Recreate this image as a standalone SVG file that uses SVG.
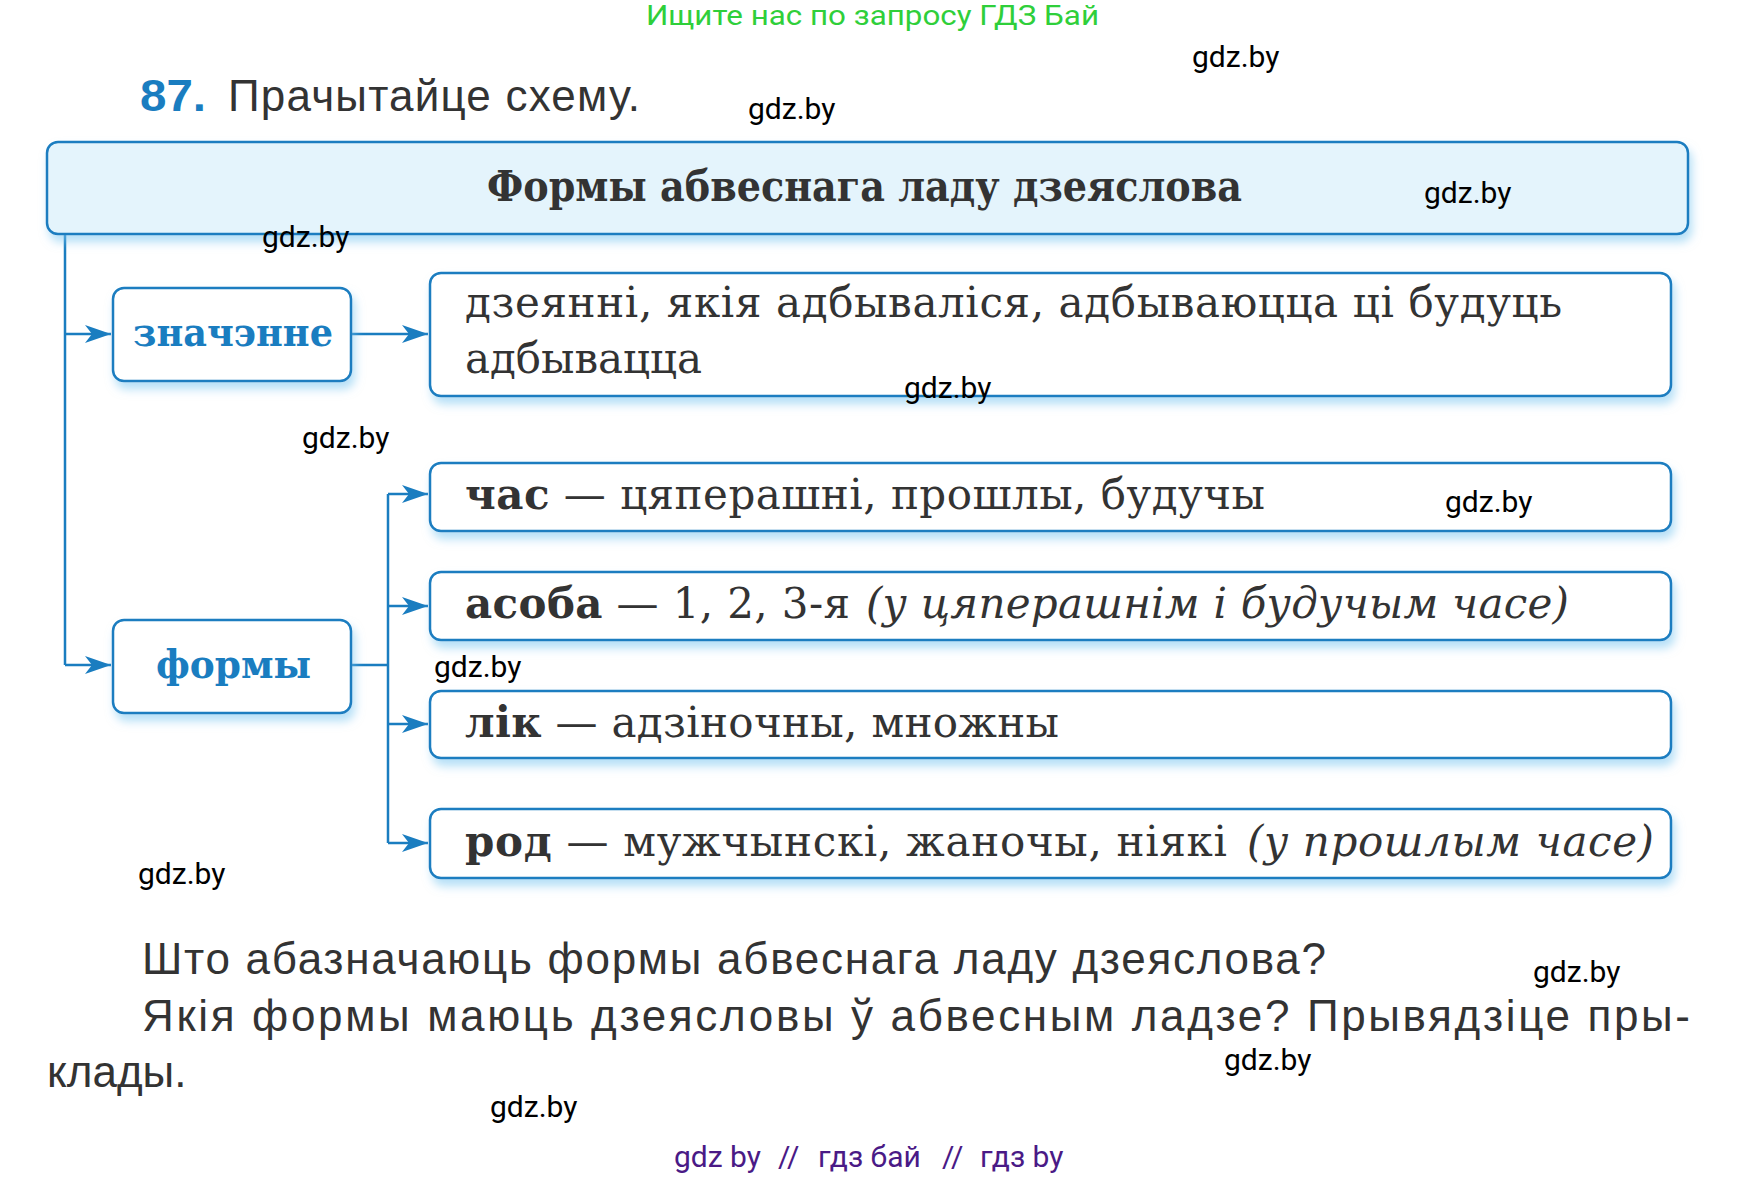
<svg xmlns="http://www.w3.org/2000/svg" width="1737" height="1180" viewBox="0 0 1737 1180">
<style>
.box{fill:#ffffff;stroke:#1a7dc0;stroke-width:2.5;filter:url(#glow)}
.tbox{fill:#e4f4fc;stroke:#1a7dc0;stroke-width:2.5;filter:url(#glow)}
.con{fill:none;stroke:#1a7dc0;stroke-width:2.5}
.arr{marker-end:url(#ah)}
.ser{font-family:"DejaVu Serif","Liberation Serif",serif;fill:#333333;font-size:42px}
.b{font-weight:bold}
.i{font-style:italic}
.lbl{font-family:"DejaVu Serif","Liberation Serif",serif;font-weight:bold;fill:#1a7dc0;font-size:40px}
.sans{font-family:"Liberation Sans",Arial,sans-serif;fill:#333333;font-size:44px}
.wm{font-family:Roboto,"Liberation Sans",sans-serif;fill:#000000;font-size:30px}
</style>
<defs>
<filter id="glow" x="-5%" y="-20%" width="112%" height="160%">
<feDropShadow dx="3" dy="7" stdDeviation="5" flood-color="#79c6f0" flood-opacity="0.55"/>
</filter>
<marker id="ah" markerUnits="userSpaceOnUse" markerWidth="28" markerHeight="20" refX="26" refY="10" orient="auto">
<path d="M0,1 L26,10 L0,19 L7,10 Z" fill="#1a7dc0"/>
</marker>
</defs>
<rect width="1737" height="1180" fill="#ffffff"/>

<text x="646" y="25" textLength="453" lengthAdjust="spacingAndGlyphs" font-family="Roboto,'Liberation Sans',sans-serif" font-size="27" fill="#2fcf3a">Ищите нас по запросу ГДЗ Бай</text>

<g id="heading">
<text x="140" y="111" font-family="'Liberation Sans',Arial,sans-serif" font-weight="bold" font-size="44" fill="#1a7dc0" textLength="66" lengthAdjust="spacingAndGlyphs">87.</text>
<text x="228" y="111" class="sans" textLength="412" lengthAdjust="spacing">Прачытайце схему.</text>
</g>

<g id="connectors">
<path class="con" d="M65,234 V665"/>
<path class="con arr" d="M65,334 H111"/>
<path class="con arr" d="M65,665 H111"/>
<path class="con arr" d="M351,334 H428"/>
<path class="con" d="M351,665 H388"/>
<path class="con" d="M388,494 V843"/>
<path class="con arr" d="M388,494 H428"/>
<path class="con arr" d="M388,606 H428"/>
<path class="con arr" d="M388,724 H428"/>
<path class="con arr" d="M388,843 H428"/>
</g>

<g id="title">
<rect class="tbox" x="47" y="142" width="1641" height="92" rx="11"/>
<text x="487" y="201" class="ser b" font-size="40" textLength="755" lengthAdjust="spacingAndGlyphs">Формы абвеснага ладу дзеяслова</text>
</g>

<g id="znachenne">
<rect class="box" x="113" y="288" width="238" height="93" rx="11"/>
<text x="133" y="346" class="lbl" textLength="200" lengthAdjust="spacingAndGlyphs">значэнне</text>
</g>

<g id="meaning">
<rect class="box" x="430" y="273" width="1241" height="123" rx="11"/>
<text x="465" y="317" class="ser" textLength="1097" lengthAdjust="spacing">дзеянні, якія адбываліся, адбываюцца ці будуць</text>
<text x="465" y="373" class="ser" textLength="237" lengthAdjust="spacing">адбывацца</text>
</g>

<g id="formy">
<rect class="box" x="113" y="620" width="238" height="93" rx="11"/>
<text x="156" y="678" class="lbl" textLength="155" lengthAdjust="spacingAndGlyphs">формы</text>
</g>

<g id="chas">
<rect class="box" x="430" y="463" width="1241" height="68" rx="11"/>
<text x="465" y="509" class="ser" textLength="800" lengthAdjust="spacing"><tspan class="b">час</tspan> — цяперашні, прошлы, будучы</text>
</g>

<g id="asoba">
<rect class="box" x="430" y="572" width="1241" height="68" rx="11"/>
<text x="465" y="618" class="ser" textLength="385" lengthAdjust="spacing"><tspan class="b">асоба</tspan> — 1, 2, 3-я</text>
<text x="866" y="618" class="ser i" textLength="703" lengthAdjust="spacing">(у цяперашнім і будучым часе)</text>
</g>

<g id="lik">
<rect class="box" x="430" y="691" width="1241" height="67" rx="11"/>
<text x="465" y="737" class="ser" textLength="594" lengthAdjust="spacing"><tspan class="b">лік</tspan> — адзіночны, множны</text>
</g>

<g id="rod">
<rect class="box" x="430" y="809" width="1241" height="69" rx="11"/>
<text x="465" y="856" class="ser" textLength="762" lengthAdjust="spacing"><tspan class="b">род</tspan> — мужчынскі, жаночы, ніякі</text>
<text x="1247" y="856" class="ser i" textLength="407" lengthAdjust="spacing">(у прошлым часе)</text>
</g>

<g id="questions">
<text x="142" y="974" class="sans" textLength="1184" lengthAdjust="spacing">Што абазначаюць формы абвеснага ладу дзеяслова?</text>
<text x="142" y="1031" class="sans" textLength="1548" lengthAdjust="spacing">Якія формы маюць дзеясловы ў абвесным ладзе? Прывядзіце пры-</text>
<text x="47" y="1087" class="sans">клады.</text>
</g>

<g id="watermarks">
<text class="wm" x="1192" y="67">gdz.by</text>
<text class="wm" x="748" y="119">gdz.by</text>
<text class="wm" x="1424" y="203">gdz.by</text>
<text class="wm" x="262" y="247">gdz.by</text>
<text class="wm" x="904" y="398">gdz.by</text>
<text class="wm" x="302" y="448">gdz.by</text>
<text class="wm" x="1445" y="512">gdz.by</text>
<text class="wm" x="434" y="677">gdz.by</text>
<text class="wm" x="138" y="884">gdz.by</text>
<text class="wm" x="1533" y="982">gdz.by</text>
<text class="wm" x="1224" y="1070">gdz.by</text>
<text class="wm" x="490" y="1117">gdz.by</text>
</g>

<text y="1167" font-family="Roboto,'Liberation Sans',sans-serif" font-size="30" fill="#4a1a86"><tspan x="674">gdz by</tspan><tspan x="778">//</tspan><tspan x="818">гдз бай</tspan><tspan x="942">//</tspan><tspan x="980">гдз by</tspan></text>
</svg>
